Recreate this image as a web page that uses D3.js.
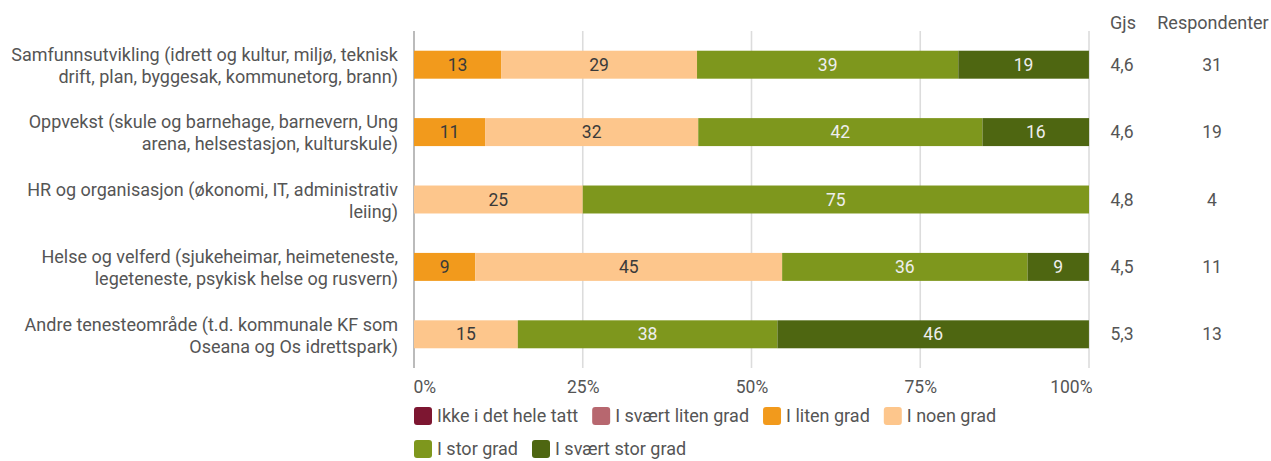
<!DOCTYPE html>
<html><head><meta charset="utf-8">
<script src="https://cdn.jsdelivr.net/npm/d3@7/dist/d3.min.js"></script>
<style>body{margin:0;background:#fff;font-family:Roboto,"Noto Sans",sans-serif;}</style>
</head><body><svg id="c" width="1271" height="461"></svg>
<script>
const categories = [
  ["Samfunnsutvikling (idrett og kultur, miljø, teknisk", "drift, plan, byggesak, kommunetorg, brann)"],
  ["Oppvekst (skule og barnehage, barnevern, Ung", "arena, helsestasjon, kulturskule)"],
  ["HR og organisasjon (økonomi, IT, administrativ", "leiing)"],
  ["Helse og velferd (sjukeheimar, heimeteneste,", "legeteneste, psykisk helse og rusvern)"],
  ["Andre tenesteområde (t.d. kommunale KF som", "Oseana og Os idrettspark)"]
];
const seriesNames = ["Ikke i det hele tatt", "I svært liten grad", "I liten grad", "I noen grad", "I stor grad", "I svært stor grad"];
const seriesColors = ["#7d1631", "#b7676f", "#f29a1c", "#fdc68c", "#7e971d", "#4e6611"];
const labelColors = ["#ffffff", "#ffffff", "#3a3a3a", "#3a3a3a", "#eeeeee", "#eeeeee"];
// percentages per category, one array per series
const sNotAtAll  = [0, 0, 0, 0, 0];
const sVeryLittle= [0, 0, 0, 0, 0];
const sLittle    = [12.9, 10.53, 0, 9.09, 0];
const sSome      = [29.03, 31.58, 25, 45.45, 15.38];
const sLarge     = [38.71, 42.11, 75, 36.36, 38.46];
const sVeryLarge = [19.35, 15.79, 0, 9.09, 46.15];
const seriesValues = [sNotAtAll, sVeryLittle, sLittle, sSome, sLarge, sVeryLarge];
const gjs = ["4,6", "4,6", "4,8", "4,5", "5,3"];
const respondents = [31, 19, 4, 11, 13];
const tickValues = [0, 25, 50, 75, 100];

const svg = d3.select("#c");
const x = d3.scaleLinear().domain([0, 100]).range([414, 1089]);
const y = d3.scaleBand().domain(d3.range(categories.length)).range([31, 368]).paddingInner(0.585).paddingOuter(0.2925);
const txt = "#555";

// gridlines
svg.append("g").selectAll("line").data(tickValues).join("line")
  .attr("x1", d => x(d)).attr("x2", d => x(d)).attr("y1", 31).attr("y2", 368)
  .attr("stroke", d => d === 0 ? "#aaa" : "#dcdcdc").attr("stroke-width", 1.6);

// axis tick labels
const xAxis = d3.axisBottom(x).tickValues(tickValues).tickFormat(d => d + "%").tickSize(0);
const ax = svg.append("g").attr("transform", "translate(0,387)").call(xAxis);
ax.select(".domain").remove();
ax.selectAll("text").attr("fill", txt).attr("font-size", 17.5).attr("font-family", "Roboto").attr("y", 0).attr("dy", "0.35em")
  .attr("text-anchor", d => d === 0 ? "start" : d === 100 ? "end" : "middle")
  .attr("dx", d => d === 0 ? -1 : d === 100 ? 3 : 0);

// stacked data
const rows = categories.map((c, i) => seriesValues.map(s => s[i]));
const stackInput = rows.map(r => Object.fromEntries(r.map((v, k) => [k, v])));
const stacked = d3.stack().keys(d3.range(seriesNames.length))(stackInput);

const g = svg.append("g");
stacked.forEach((layer, k) => {
  layer.forEach((seg, i) => {
    const v = seg[1] - seg[0];
    if (v <= 0) return;
    g.append("rect").attr("x", x(seg[0])).attr("width", x(seg[1]) - x(seg[0]))
      .attr("y", y(i)).attr("height", y.bandwidth()).attr("fill", seriesColors[k]);
    g.append("text").attr("x", (x(seg[0]) + x(seg[1])) / 2).attr("y", y(i) + y.bandwidth() / 2)
      .attr("dy", "0.35em").attr("text-anchor", "middle").attr("font-size", 17.5)
      .attr("fill", labelColors[k]).text(Math.round(v));
  });
});

// category labels
categories.forEach((lines, i) => {
  const cy = y(i) + y.bandwidth() / 2;
  const t = svg.append("text").attr("text-anchor", "end").attr("fill", txt).attr("font-size", 18);
  lines.forEach((l, j) => {
    t.append("tspan").attr("x", 398).attr("y", cy + (j - (lines.length - 1) / 2) * 22 + 1).attr("dy", "0.35em").text(l);
  });
});

// right columns
svg.append("text").attr("x", 1123).attr("y", 23).attr("dy", "0.35em").attr("text-anchor", "middle").attr("fill", txt).attr("font-size", 18).text("Gjs");
svg.append("text").attr("x", 1213).attr("y", 23).attr("dy", "0.35em").attr("text-anchor", "middle").attr("fill", txt).attr("font-size", 18).text("Respondenter");
gjs.forEach((v, i) => {
  svg.append("text").attr("x", 1122).attr("y", y(i) + y.bandwidth() / 2).attr("dy", "0.35em").attr("text-anchor", "middle").attr("fill", txt).attr("font-size", 17.5).text(v);
  svg.append("text").attr("x", 1212).attr("y", y(i) + y.bandwidth() / 2).attr("dy", "0.35em").attr("text-anchor", "middle").attr("fill", txt).attr("font-size", 17.5).text(respondents[i]);
});

// legend
const lg = svg.append("g");
let lx = 414, ly = 416;
const maxX = 1089;
seriesNames.forEach((name, k) => {
  const item = lg.append("g");
  const t = item.append("text").attr("x", 23).attr("y", 0).attr("dy", "0.35em").attr("fill", txt).attr("font-size", 18).text(name);
  const w = 23 + t.node().getComputedTextLength();
  if (lx + w > maxX) { lx = 414; ly += 33; }
  item.insert("rect", "text").attr("x", 0).attr("y", -9).attr("width", 18).attr("height", 18).attr("rx", 3).attr("fill", seriesColors[k]);
  item.attr("transform", `translate(${lx},${ly})`);
  lx += w + 14;
});
</script></body></html>
